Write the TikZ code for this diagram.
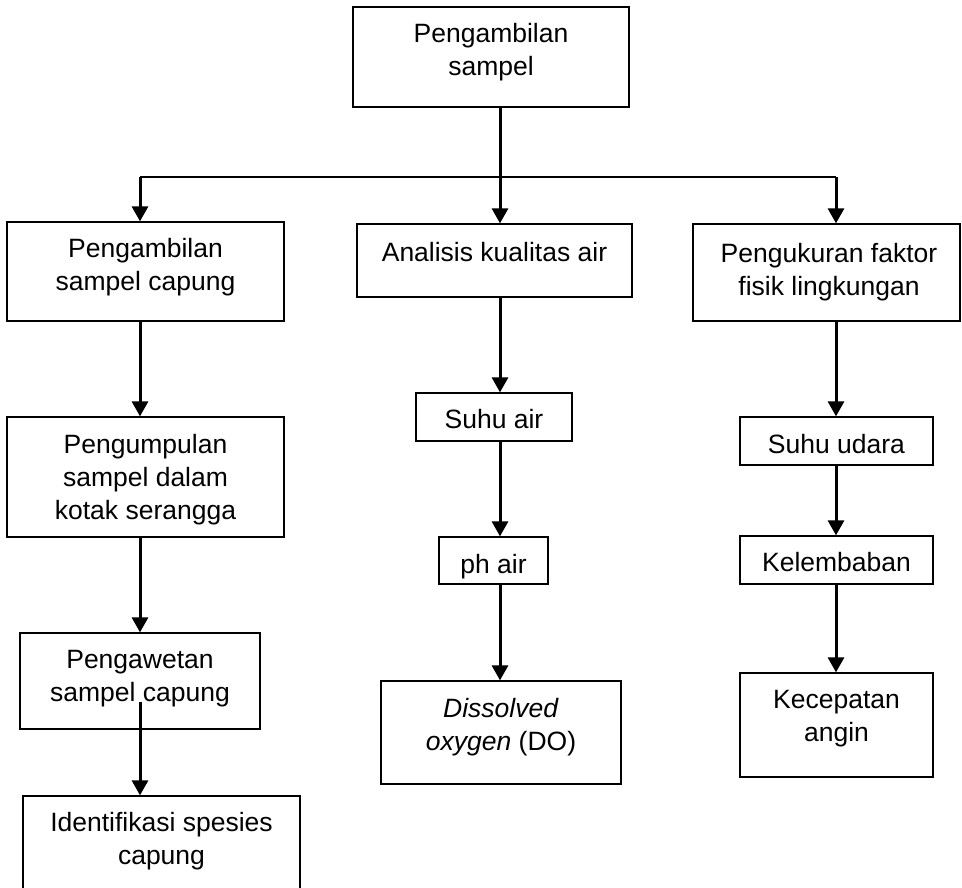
\documentclass[tikz,border=0pt]{standalone}
\usepackage{fontspec}
\setmainfont{Liberation Sans}
\usetikzlibrary{arrows.meta}
\newcommand\mlines[1]{\begin{tabular}[t]{@{}c@{}}#1\end{tabular}}
\begin{document}
\begin{tikzpicture}[x=1pt,y=-1pt,
  box/.style={draw=black, line width=1.3pt, inner sep=0pt, rectangle},
  txt/.style={anchor=base, inner sep=0pt, font=\fontsize{26.5}{33}\selectfont},
  arr/.style={line width=3pt, -{Triangle[width=16pt,length=15pt]}},
  hline/.style={line width=1.8pt}]
\useasboundingbox (0,0) rectangle (962,888);
\clip (0,0) rectangle (962,888);

% boxes
\node[box, minimum width=276pt, minimum height=100pt] (top) at (491,57) {};
\node[box, minimum width=277pt, minimum height=99pt] (left1) at (145.5,271.5) {};
\node[box, minimum width=275pt, minimum height=73pt] (mid1) at (494.5,260.5) {};
\node[box, minimum width=267pt, minimum height=97pt] (right1) at (826.5,272.5) {};
\node[box, minimum width=277pt, minimum height=120pt] (left2) at (145.5,477) {};
\node[box, minimum width=240pt, minimum height=96pt] (left3) at (140,681) {};
\node[box, minimum width=277pt, minimum height=104pt] (left4) at (161.5,848) {};
\node[box, minimum width=156pt, minimum height=48pt] (suhuair) at (494,417) {};
\node[box, minimum width=109pt, minimum height=47pt] (ph) at (493.5,560.5) {};
\node[box, minimum width=240pt, minimum height=103pt] (do) at (501,732.5) {};
\node[box, minimum width=193pt, minimum height=48pt] (suhuudara) at (836.5,441) {};
\node[box, minimum width=193pt, minimum height=48pt] (kelembaban) at (836.5,560) {};
\node[box, minimum width=193pt, minimum height=104pt] (kecepatan) at (836.5,725) {};

% texts
\node[txt] (ttop) at (491,43) {\mlines{Pengambilan\\sampel}};
\node[txt] (tleft1) at (145.5,258) {\mlines{Pengambilan\\sampel capung}};
\node[txt] (tmid1) at (494.5,261) {Analisis kualitas air};
\node[txt] (tright1) at (829,262) {\mlines{Pengukuran faktor\\fisik lingkungan}};
\node[txt] (tleft2) at (145.5,453) {\mlines{Pengumpulan\\sampel dalam\\kotak serangga}};
\node[txt] (tleft3) at (140,668) {\mlines{Pengawetan\\sampel capung}};
\node[txt] (tleft4) at (161.5,831) {\mlines{Identifikasi spesies\\capung}};
\node[txt] (tsuhuair) at (494,428) {Suhu air};
\node[txt] (tph) at (493.5,573) {ph air};
\node[txt] (tdo) at (501,717) {\mlines{\textit{Dissolved}\\\textit{oxygen} (DO)}};
\node[txt] (tsuhuudara) at (836.5,453) {Suhu udara};
\node[txt] (tkelembaban) at (836.5,571) {Kelembaban};
\node[txt] (tkecepatan) at (836.5,708) {\mlines{Kecepatan\\angin}};

% junction coordinates
\coordinate (j) at (500,177);
\coordinate (jl) at (140,177);
\coordinate (jr) at (836,177);
\coordinate (ls) at (140,702);

% connectors
\draw[hline] (jl) -- (jr);
\draw[arr] (top.south -| j) -- (mid1.north -| j);
\draw[arr] (jl) -- (left1.north -| jl);
\draw[arr] (jr) -- (right1.north -| jr);
\draw[arr] (left1.south -| jl) -- (left2.north -| jl);
\draw[arr] (left2.south -| jl) -- (left3.north -| jl);
\draw[arr] (ls) -- (left4.north -| ls);
\draw[arr] (mid1.south -| j) -- (suhuair.north -| j);
\draw[arr] (suhuair.south -| j) -- (ph.north -| j);
\draw[arr] (ph.south -| j) -- (do.north -| j);
\draw[arr] (right1.south -| jr) -- (suhuudara.north -| jr);
\draw[arr] (suhuudara.south -| jr) -- (kelembaban.north -| jr);
\draw[arr] (kelembaban.south -| jr) -- (kecepatan.north -| jr);
\end{tikzpicture}
\end{document}
